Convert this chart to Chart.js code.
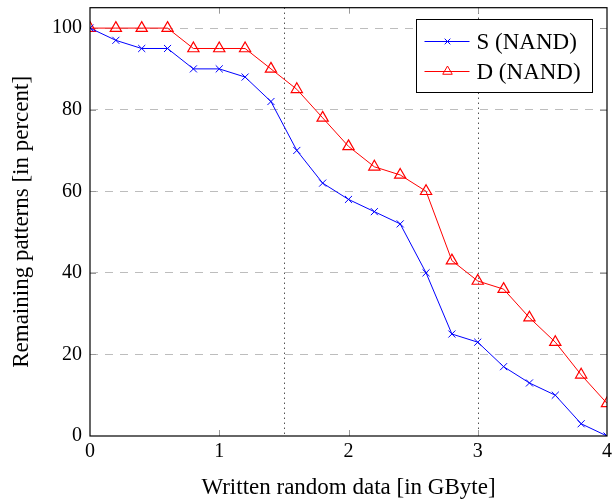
<!DOCTYPE html>
<html>
<head>
<meta charset="utf-8">
<script src="https://cdn.jsdelivr.net/npm/chart.js@4.4.1/dist/chart.umd.min.js"></script>
<style>
  html, body { margin: 0; padding: 0; background: #fff; overflow: hidden; }
  #wrap { width: 612px; height: 502px; overflow: hidden; }
</style>
</head>
<body>
<div id="wrap"><canvas id="chart" width="616" height="502"></canvas></div>
<script>
// data
const xValues = [0, 0.2, 0.4, 0.6, 0.8, 1.0, 1.2, 1.4, 1.6, 1.8, 2.0, 2.2, 2.4, 2.6, 2.8, 3.0, 3.2, 3.4, 3.6, 3.8, 4.0];
const sNand = [100, 97, 95, 95, 90, 90, 88, 82, 70, 62, 58, 55, 52, 40, 25, 23, 17, 13, 10, 3, 0];
const dNand = [100, 100, 100, 100, 95, 95, 95, 90, 85, 78, 71, 66, 64, 60, 43, 38, 36, 29, 23, 15, 8];
const xTicks = [0, 1, 2, 3, 4];
const yTicks = [0, 20, 40, 60, 80, 100];
const markerLines = [1.5, 3];

const FONT = '"Liberation Serif", "DejaVu Serif", serif';

function toPoints(ys) {
    return xValues.map((x, i) => ({ x: x, y: ys[i] }));
}

// frame, inward ticks, dotted verticals and legend
const decorations = {
    id: 'decorations',
    beforeDatasetsDraw(chart) {
        const { ctx, chartArea: a, scales } = chart;
        ctx.save();
        // dotted vertical lines
        ctx.strokeStyle = '#000';
        ctx.lineWidth = 1;
        ctx.setLineDash([1, 4]);
        markerLines.forEach(v => {
            const px = Math.round(scales.x.getPixelForValue(v)) + 0.5;
            ctx.beginPath();
            ctx.moveTo(px, a.top);
            ctx.lineTo(px, a.bottom);
            ctx.stroke();
        });
        ctx.setLineDash([]);
        // inward ticks
        ctx.strokeStyle = '#999';
        ctx.lineWidth = 1;
        xTicks.slice(1, -1).forEach(v => {
            const px = Math.round(scales.x.getPixelForValue(v)) + 0.5;
            ctx.beginPath();
            ctx.moveTo(px, a.bottom); ctx.lineTo(px, a.bottom - 6);
            ctx.moveTo(px, a.top); ctx.lineTo(px, a.top + 6);
            ctx.stroke();
        });
        yTicks.slice(1).forEach(v => {
            const py = Math.round(scales.y.getPixelForValue(v)) + 0.5;
            ctx.beginPath();
            ctx.moveTo(a.left, py); ctx.lineTo(a.left + 6, py);
            ctx.moveTo(a.right, py); ctx.lineTo(a.right - 7, py);
            ctx.stroke();
        });
        ctx.restore();
    },
    afterDatasetsDraw(chart) {
        const { ctx, chartArea: a } = chart;
        ctx.save();
        // frame
        ctx.strokeStyle = '#000';
        ctx.lineWidth = 1.2;
        ctx.strokeRect(a.left, a.top, a.right - a.left, a.bottom - a.top);

        // legend box
        const bx = 416.5, by = 19.5, bw = 176, bh = 73;
        ctx.fillStyle = '#fff';
        ctx.fillRect(bx, by, bw, bh);
        ctx.strokeStyle = '#000';
        ctx.lineWidth = 1;
        ctx.strokeRect(bx, by, bw, bh);
        ctx.font = '23px ' + FONT;
        ctx.textBaseline = 'middle';
        chart.data.datasets.forEach((ds, i) => {
            const cy = by + 22 + i * 30;
            ctx.strokeStyle = ds.borderColor;
            ctx.fillStyle = 'rgba(0,0,0,0)';
            ctx.lineWidth = 1;
            ctx.beginPath();
            ctx.moveTo(bx + 8, cy);
            ctx.lineTo(bx + 53, cy);
            ctx.stroke();
            Chart.helpers.drawPoint(ctx, {
                pointStyle: ds.pointStyle,
                radius: ds.pointRadius - 1,
                borderWidth: 1
            }, bx + 31, cy);
            ctx.fillStyle = '#000';
            ctx.fillText(ds.label, bx + 60, cy + 1);
        });
        ctx.restore();
    }
};

new Chart(document.getElementById('chart'), {
    type: 'line',
    data: {
        datasets: [{
            label: 'S (NAND)',
            data: toPoints(sNand),
            borderColor: '#0000ff',
            backgroundColor: '#0000ff',
            borderWidth: 1,
            pointStyle: 'crossRot',
            pointRadius: 5,
            pointBorderWidth: 1,
            tension: 0
        }, {
            label: 'D (NAND)',
            data: toPoints(dNand),
            borderColor: '#ff0000',
            backgroundColor: 'rgba(0,0,0,0)',
            borderWidth: 1,
            pointStyle: 'triangle',
            pointRadius: 6.5,
            pointBorderWidth: 1.2,
            tension: 0
        }]
    },
    options: {
        responsive: false,
        animation: false,
        layout: { padding: { top: 6, right: 0, left: 8, bottom: 0 } },
        plugins: {
            legend: { display: false },
            tooltip: { enabled: false }
        },
        scales: {
            x: {
                type: 'linear',
                min: 0,
                max: 4,
                afterBuildTicks: s => { s.ticks = xTicks.map(v => ({ value: v })); },
                afterFit: s => { s.height = 66; },
                grid: { display: false, drawTicks: false },
                border: { display: false },
                ticks: {
                    color: '#000',
                    padding: 4,
                    maxRotation: 0,
                    font: { family: FONT, size: 20 }
                },
                title: {
                    display: true,
                    text: 'Written random data [in GByte]',
                    color: '#000',
                    padding: { top: 2, bottom: 0 },
                    font: { family: FONT, size: 23 }
                }
            },
            y: {
                min: 0,
                max: 105,
                afterBuildTicks: s => { s.ticks = yTicks.map(v => ({ value: v })); },
                afterFit: s => { s.width = 82; s.paddingTop = 0; s.paddingBottom = 0; },
                grid: {
                    color: c => c.tick && c.tick.value === 0 ? 'rgba(0,0,0,0)' : '#bdbdbd',
                    lineWidth: 1,
                    drawTicks: false
                },
                border: { display: false, dash: [8, 7] },
                ticks: {
                    color: '#000',
                    padding: 8,
                    font: { family: FONT, size: 20 }
                },
                title: {
                    display: true,
                    text: 'Remaining patterns [in percent]',
                    color: '#000',
                    padding: { top: 0, bottom: 4 },
                    font: { family: FONT, size: 23 }
                }
            }
        }
    },
    plugins: [decorations]
});
</script>
</body>
</html>
